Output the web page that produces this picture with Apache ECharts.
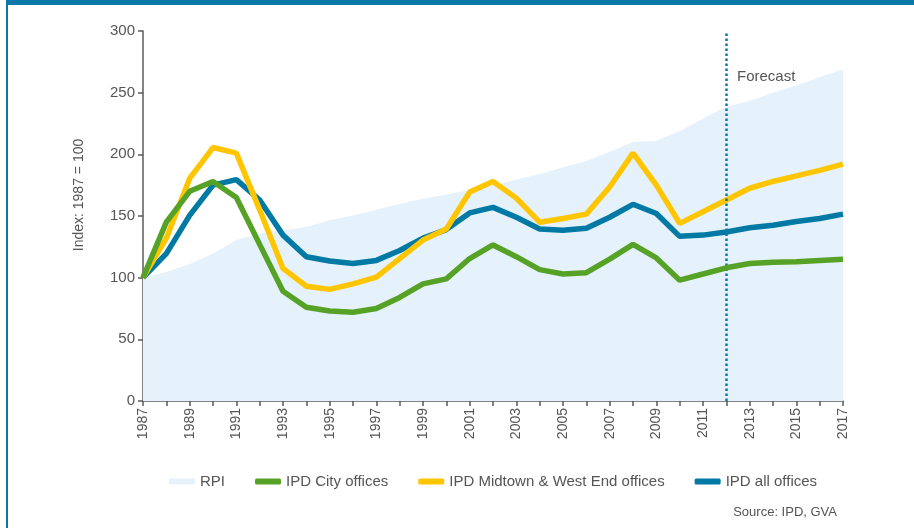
<!DOCTYPE html>
<html>
	<head>
		<meta charset="utf-8">
		<title>Office rental index</title>
		<script src="https://cdn.jsdelivr.net/npm/echarts@6/dist/echarts.min.js"></script>
		<style>
			body { margin: 0; background: #fff; }
		</style>
	</head>
	<body>
		<div id="main" style="width: 914px;height: 528px;"></div>

		<script>
			var years = [];
			for (var y = 1987; y <= 2017; y++) years.push(String(y));

			// RPI (area)
			var rpi = [100, 104.5, 111, 119.5, 130.5, 136, 138.5, 141, 146.5, 150.5,
				155, 160, 164, 167.5, 171, 175, 179.5, 184, 189.5, 194.5,
				202, 210, 211, 219, 229, 238.5, 243.5, 250, 256, 262.5, 269];
			// IPD City offices
			var city = [100, 145, 170, 178, 165, 127, 89, 76, 73, 72,
				75, 84, 95, 99, 115.5, 126.5, 117, 106.5, 103, 104,
				115, 127, 116, 98, 103, 108, 111.5, 112.5, 113, 114, 115];
			// IPD Midtown & West End offices
			var midtown = [100, 132, 180.5, 205.5, 201, 155, 107.5, 93, 90.5, 95,
				100.5, 115.5, 130.5, 139.5, 169.5, 178, 164.5, 145, 148, 151.5,
				173.5, 201, 175, 144, 153.5, 163, 172.5, 178, 182.5, 187, 192];
			// IPD all offices
			var allOffices = [100, 119.5, 150.5, 175, 179.5, 163, 134.5, 117, 113.5, 111.5,
				114, 122, 132, 139, 152.5, 157, 149, 139.5, 138.5, 140,
				149, 159.5, 152, 133.5, 134.5, 137, 140.5, 142.5, 145.5, 148, 151.5];

			var forecastYear = '2012';

			var txt = '#555555';
			var font = 'Liberation Sans, Arial, sans-serif';

			var myChart = echarts.init(document.getElementById('main'));

			var option = {
				animation: false,
				backgroundColor: '#ffffff',
				textStyle: { fontFamily: font },
				grid: {
					left: 143,
					right: 71,
					top: 31,
					bottom: 127
				},
				legend: {
					left: 164,
					top: 469,
					itemGap: 30,
					itemWidth: 26,
					itemHeight: 6,
					textStyle: { color: txt, fontSize: 15, fontFamily: font },
					data: [
						{ name: 'RPI', icon: 'rect', itemStyle: { color: '#e6f2fb' } },
						{ name: 'IPD City offices', icon: 'roundRect' },
						{ name: 'IPD Midtown & West End offices', icon: 'roundRect' },
						{ name: 'IPD all offices', icon: 'roundRect' }
					]
				},
				xAxis: {
					type: 'category',
					data: years,
					boundaryGap: false,
					axisLine: { lineStyle: { color: '#5a5a5a', width: 1.5 } },
					axisTick: { show: true, interval: 0, length: 5, lineStyle: { color: '#5a5a5a', width: 1.5 } },
					axisLabel: {
						interval: 1,
						rotate: 90,
						color: txt,
						fontSize: 14,
						margin: 7
					},
					splitLine: { show: false }
				},
				yAxis: {
					type: 'value',
					min: 0,
					max: 300,
					interval: 50,
					axisLine: { show: true, lineStyle: { color: '#5a5a5a', width: 1.5 } },
					axisTick: { show: true, length: 5, lineStyle: { color: '#5a5a5a', width: 1.5 } },
					axisLabel: { color: txt, fontSize: 15, margin: 8 },
					splitLine: { show: false }
				},
				graphic: [
					{ type: 'rect', shape: { x: 6, y: 0, width: 908, height: 5 }, style: { fill: '#0a79a7' } },
					{ type: 'rect', shape: { x: 6, y: 0, width: 2, height: 528 }, style: { fill: '#0a79a7' } },
					{
						type: 'text', x: 79, y: 195, rotation: Math.PI / 2,
						style: { text: 'Index: 1987 = 100', fill: txt, fontSize: 14, fontFamily: font, align: 'center', verticalAlign: 'middle' }
					},
					{
						type: 'text', x: 737, y: 77,
						style: { text: 'Forecast', fill: txt, fontSize: 15, fontFamily: font, align: 'left', verticalAlign: 'middle' }
					},
					{
						type: 'text', right: 77, top: 506,
						style: { text: 'Source: IPD, GVA', fill: txt, fontSize: 13, fontFamily: font }
					}
				],
				series: [
					{
						name: 'RPI',
						type: 'line',
						data: rpi,
						symbol: 'none',
						lineStyle: { width: 0 },
						itemStyle: { color: '#e6f2fb' },
						areaStyle: { color: '#e6f2fb', opacity: 1 },
						z: 1,
						markLine: {
							silent: true,
							symbol: 'none',
							label: { show: false },
							lineStyle: { color: '#0a79a7', type: 'dotted', width: 2.5 },
							data: [{ xAxis: forecastYear }]
						}
					},
					{
						name: 'IPD all offices',
						type: 'line',
						data: allOffices,
						symbol: 'none',
						lineStyle: { width: 5.5, color: '#0079a4' },
						itemStyle: { color: '#0079a4' },
						z: 3
					},
					{
						name: 'IPD Midtown & West End offices',
						type: 'line',
						data: midtown,
						symbol: 'none',
						lineStyle: { width: 5.5, color: '#ffc600' },
						itemStyle: { color: '#ffc600' },
						z: 4
					},
					{
						name: 'IPD City offices',
						type: 'line',
						data: city,
						symbol: 'none',
						lineStyle: { width: 5.5, color: '#56a227' },
						itemStyle: { color: '#56a227' },
						z: 5
					}
				]
			};

			myChart.setOption(option);
		</script>
	</body>
</html>
